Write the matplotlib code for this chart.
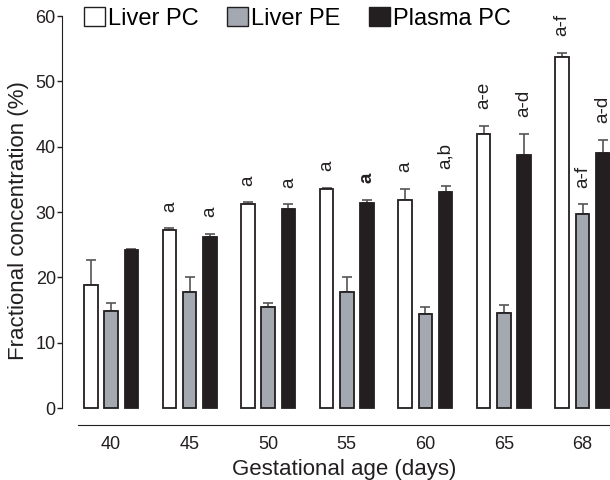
import numpy as np
import matplotlib
matplotlib.use("Agg")
import matplotlib.pyplot as plt
from matplotlib.patches import Patch

plt.rcParams['font.family'] = ['Liberation Sans', 'DejaVu Sans']

# ---- data ----
ages = ['40', '45', '50', '55', '60', '65', '68']
liver_pc = [18.8, 27.3, 31.2, 33.6, 31.9, 41.9, 53.8]
liver_pc_err = [3.8, 0.2, 0.3, 0.1, 1.6, 1.3, 0.6]
liver_pe = [14.8, 17.8, 15.5, 17.8, 14.4, 14.6, 29.7]
liver_pe_err = [1.2, 2.2, 0.6, 2.2, 1.1, 1.1, 1.5]
plasma_pc = [24.2, 26.1, 30.4, 31.4, 33.1, 38.7, 39.0]
plasma_pc_err = [0.1, 0.6, 0.8, 0.5, 0.9, 3.3, 2.0]

liver_pc_sig = ['', 'a', 'a', 'a', 'a', 'a-e', 'a-f']
liver_pe_sig = ['', '', '', '', '', '', 'a-f']
plasma_pc_sig = ['', 'a', 'a', 'a', 'a,b', 'a-d', 'a-d']
bold_sig = [('Plasma PC', 3)]  # this letter is printed bold in the original

series = [
    ('Liver PC', liver_pc, liver_pc_err, liver_pc_sig, 'white'),
    ('Liver PE', liver_pe, liver_pe_err, liver_pe_sig, '#a4a9b1'),
    ('Plasma PC', plasma_pc, plasma_pc_err, plasma_pc_sig, '#231f20'),
]

ink = '#231f20'

# ---- plot ----
fig = plt.figure(figsize=(6.1, 4.8), dpi=100)
ax = fig.add_axes([0.128, 0.1146, 0.872, 0.852])

x = np.arange(len(ages))
width = 0.172
offsets = [-0.258, 0.0, 0.258]

for (label, vals, errs, sig, color), off in zip(series, offsets):
    xs = x + off
    ax.bar(xs, vals, width, color=color, edgecolor=ink, linewidth=1.3, zorder=2)
    ax.errorbar(xs, vals, yerr=[np.zeros(len(vals)), errs], fmt='none',
                ecolor='#555555', elinewidth=1.2, capsize=3.5, capthick=1.2, zorder=1)
    for i, (xi, v, e, s) in enumerate(zip(xs, vals, errs, sig)):
        if s:
            fw = 'bold' if (label, i) in bold_sig else 'normal'
            ax.annotate(s, (xi, v + e), xytext=(0, 12), textcoords='offset points',
                        rotation=90, ha='center', va='bottom', fontsize=13.5,
                        fontweight=fw, color=ink)

ax.set_xlim(-0.42, 6.35)
ax.set_ylim(-2.6, 60)
ax.set_yticks([0, 10, 20, 30, 40, 50, 60])
ax.set_xticks(x)
ax.set_xticklabels(ages)
ax.tick_params(axis='x', length=0, labelsize=13, pad=8, colors=ink)
ax.tick_params(axis='y', length=3.5, width=1, labelsize=13, pad=1, colors=ink)
ax.spines['top'].set_visible(False)
ax.spines['right'].set_visible(False)
ax.spines['left'].set_bounds(0, 60)
ax.spines['left'].set_position(('outward', 11.5))
ax.spines['left'].set_color(ink)
ax.spines['bottom'].set_color(ink)
ax.set_xlabel('Gestational age (days)', fontsize=16, labelpad=4, color=ink)
ax.set_ylabel('Fractional concentration (%)', fontsize=16, labelpad=5, color=ink)

handles = [Patch(facecolor=c, edgecolor=ink, linewidth=1.0) for _, _, _, _, c in series]
labels = [s[0] for s in series]
fig.legend(handles, labels, loc='upper left', bbox_to_anchor=(84 / 610, 1 - 7 / 480), ncol=3,
           frameon=False, fontsize=17, handlelength=0.9, handleheight=0.85,
           handletextpad=0.12, columnspacing=1.2, borderpad=0, borderaxespad=0)

fig.savefig('out.png', dpi=100)
